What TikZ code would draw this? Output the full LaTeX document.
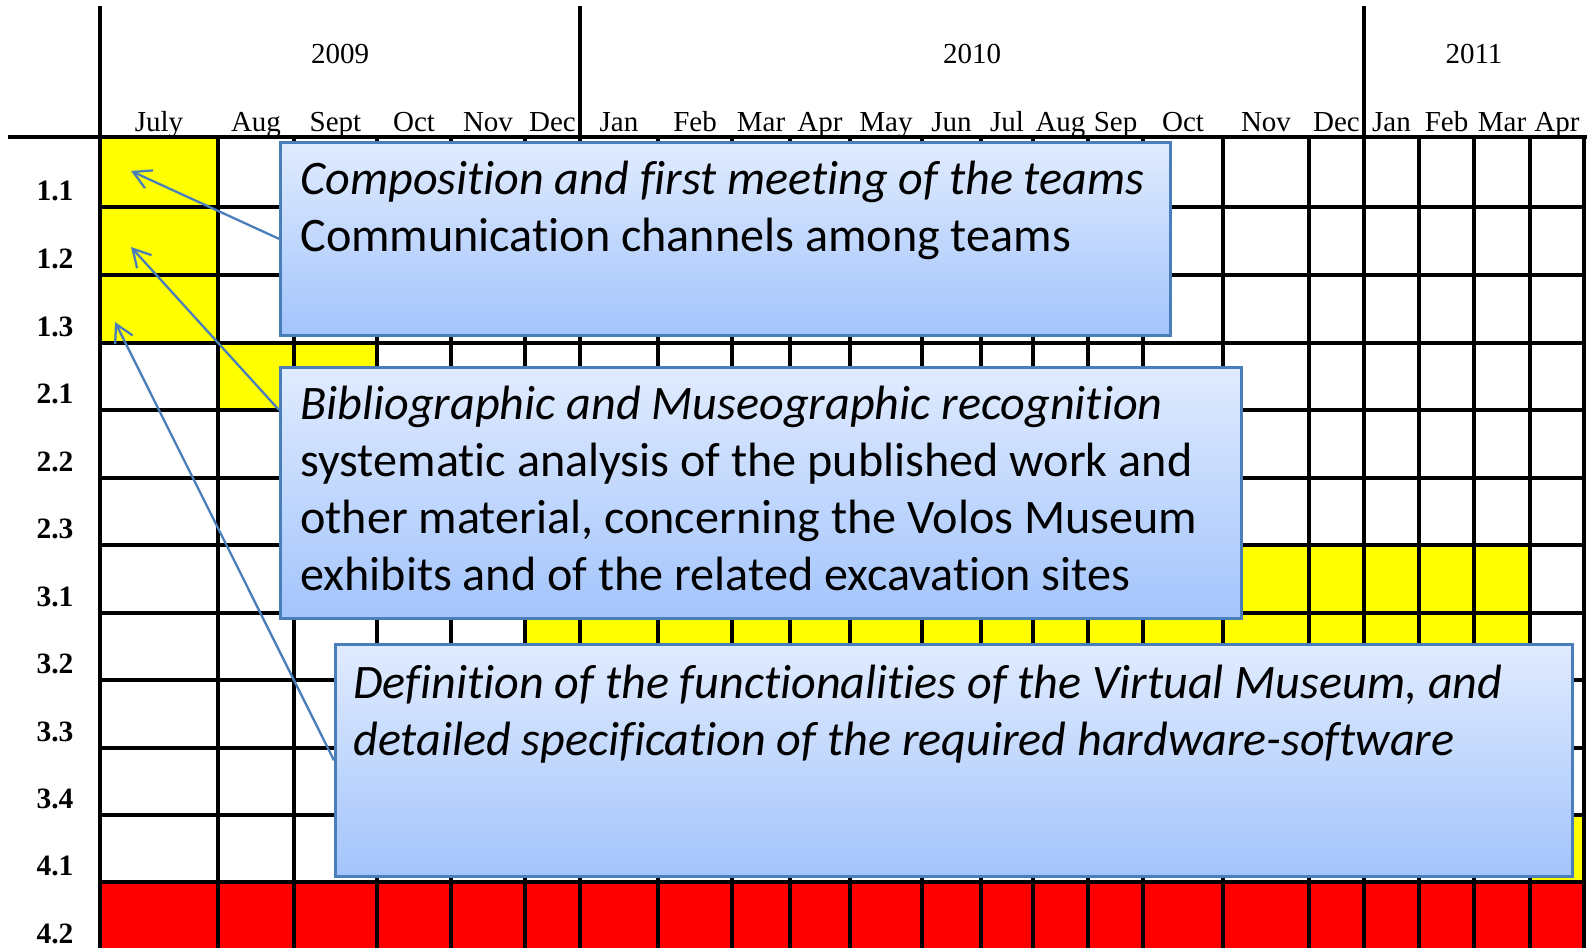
\documentclass[tikz,border=0pt]{standalone}
\usepackage{fontspec}
\setmainfont{Liberation Serif}
\newfontfamily\calfont[Ligatures={NoCommon}]{Carlito}
\usetikzlibrary{arrows.meta}

\definecolor{taskbar}{RGB}{255,255,0}
\definecolor{runbar}{RGB}{255,0,0}
\definecolor{calloutedge}{RGB}{74,126,187}
\definecolor{callouttop}{RGB}{224,235,254}
\definecolor{calloutbottom}{RGB}{163,196,252}

\begin{document}
\begin{tikzpicture}[x=0.2mm, y=-0.2mm,
    gridline/.style={line width=1.85pt},
    yearline/.style={line width=2.7pt},
    month/.style={font=\fontsize{16.5}{18}\selectfont, anchor=base},
    task/.style={font=\fontsize{16.8}{18}\selectfont\bfseries, anchor=base},
    callout/.style={draw=calloutedge, line width=1.5pt, top color=callouttop, bottom color=calloutbottom, anchor=north west, inner sep=0pt},
    callouttext/.style={font=\calfont\fontsize{27.4}{32.4}\selectfont, align=left, anchor=north west, inner sep=0pt},
    pointer/.style={draw=calloutedge, line width=1.3pt, -{Straight Barb[length=3.5mm, width=3.9mm]}}
]
    \useasboundingbox (0,0) rectangle (1587,948);

    % Bars
    \fill[taskbar] (100,137) rectangle (218,343);
    \fill[taskbar] (218,343) rectangle (377,410);
    \fill[taskbar] (1223,545) rectangle (1530,613);
    \fill[taskbar] (525,613) rectangle (1530,680);
    \fill[taskbar] (1530,815) rectangle (1584,882);
    \fill[runbar] (100,882) rectangle (1584,948);

    % Grid
    \foreach \x in {218,294,377,451,525,658,732,790,850,922,981,1033,1088,1143,1223,1309,1419,1474,1530,1584}
        \draw[gridline] (\x,137) -- (\x,948);
    \foreach \y in {207,275,343,410,478,545,613,680,748,815,882}
        \draw[gridline] (100,\y) -- (1584,\y);
    \draw[yearline] (100,6) -- (100,948);
    \draw[yearline] (580,6) -- (580,948);
    \draw[yearline] (1364,6) -- (1364,948);
    \draw[yearline] (8,137) -- (1587,137);

    % Years and months
    \node[month] (y2009) at (340,63) {2009};
    \node[month] (y2010) at (972,63) {2010};
    \node[month] (y2011) at (1474,63) {2011};
    \foreach \m/\x [count=\i] in {July/159, Aug/256, Sept/335.5, Oct/414, Nov/488, Dec/552.5,
        Jan/619, Feb/695, Mar/761, Apr/820, May/886, Jun/951.5, Jul/1007, Aug/1060.5, Sep/1115.5,
        Oct/1183, Nov/1266, Dec/1336.5, Jan/1391.5, Feb/1446.5, Mar/1502, Apr/1557}
        \node[month] (mon\i) at (\x,131) {\m};

    % Tasks
    \foreach \t/\y [count=\i] in {1.1/200, 1.2/268, 1.3/336, 2.1/403, 2.2/471, 2.3/538,
        3.1/606, 3.2/673, 3.3/741, 3.4/808, 4.1/875, 4.2/943}
        \node[task] (task\i) at (55,\y) {\t};

    % Callouts
    \node[callout, minimum width=178mm, minimum height=38.6mm] (teams) at (279,141) {};
    \node[callouttext] (teamstext) at ([shift={(4.2mm,-2.6mm)}]teams.north west)
        {\strut\itshape Composition and first meeting of the teams\\Communication channels among teams};

    \node[callout, minimum width=192.2mm, minimum height=50.2mm] (biblio) at (279,366) {};
    \node[callouttext] (bibliotext) at ([shift={(4.2mm,-2.6mm)}]biblio.north west)
        {\strut\itshape Bibliographic and Museographic recognition\\systematic analysis of the published work and\\other material, concerning the Volos Museum\\exhibits and of the related excavation sites};

    \node[callout, minimum width=247.4mm, minimum height=46.4mm] (virtual) at (334,643) {};
    \node[callouttext] (virtualtext) at ([shift={(3.8mm,-3mm)}]virtual.north west)
        {\strut\itshape Definition of the functionalities of the Virtual Museum, and\\\itshape detailed specification of the required hardware-software};

    % Pointers
    \coordinate (tip1) at (131,171);
    \coordinate (tip2) at (131,247);
    \coordinate (tip3) at (115,322);
    \draw[pointer] (teams.west) -- (tip1);
    \draw[pointer] ([yshift=-8.8mm]biblio.north west) -- (tip2);
    \draw[pointer] (virtual.west) -- (tip3);

\end{tikzpicture}
\end{document}
